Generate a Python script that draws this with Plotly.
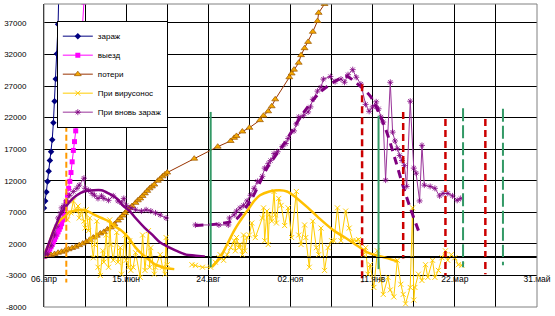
import pandas as pd
import plotly.graph_objects as go

BASE = pd.Timestamp("2020-04-06")

# ---------------- data (day offsets from 06.04.2020, values) ----------------
zarazh_days = [0, 1, 2, 3, 4, 5, 6, 7, 8, 9, 10, 11, 12, 13]
zarazh_vals = [7700, 8800, 10200, 11900, 13500, 15200, 16600, 18500, 21200, 24600, 28100, 32100, 36800, 45000]

vyezd_days = list(range(0, 29)) + [34]
vyezd_vals = [0, 150, 350, 600, 900, 1200, 1550, 1900, 2300, 2700, 3100, 3500, 3900, 4300, 4700,
              5200, 5800, 6500, 7600, 8600, 9700, 10800, 11900, 13300, 15000, 16800, 18200, 19900,
              21500, 40300]

poteri_days = [0, 3, 6, 9, 12, 15, 18, 21, 24, 27, 30, 33, 36, 39, 42, 45, 48, 51, 54, 57, 60, 63,
               65, 67, 69, 71, 73, 75, 78, 80, 82, 84, 86, 88, 90, 92, 94, 97, 99, 101, 103, 105,
               128, 148, 159, 162, 164, 169, 175, 184, 187, 191, 194, 197, 209, 211, 213, 217, 219,
               222, 225, 229, 233, 234, 239]
poteri_vals = [0, 100, 250, 400, 600, 750, 950, 1150, 1350, 1550, 1800, 2050, 2350, 2650, 3000, 3300,
               3650, 3900, 4300, 4600, 5100, 5700, 6100, 6500, 6900, 7300, 7700, 8000, 8500, 8900,
               9200, 9600, 10000, 10400, 10800, 11100, 11400, 12000, 12300, 12700, 13000, 13300,
               15500, 17400, 18300, 18800, 19100, 19800, 20400, 21600, 22300, 23000, 23800, 24900,
               28400, 29000, 29600, 30700, 31900, 33000, 34000, 35600, 37300, 38600, 40000]

virus_days = [20, 23, 25, 27, 29, 30, 32, 34, 35, 36, 38, 39, 40, 42, 43, 45, 46, 48, 50, 51, 53, 55,
              56, 57, 59, 62, 63, 65, 66, 69, 70, 72, 73, 74, 76, 78, 82, 84, 86, 89, 90, 91, 94, 95,
              99, 101, 103, 104, 105, None,
              126, 129, 135, 142, 146, 149, 150, 153, 156, 159, 162, 163, 164, 166, 167, 169, 170,
              171, 173, 175, 177, 180, 186, 187, 188, 190, 191, 192, 194, 196, 197, 198, 200, 202,
              205, 208, 211, 215, 217, 219, 222, 223, 226, 229, 232, 234, 236, 239, 242, 245, 247,
              250, 253, 257, 260, 263, 266, 268, 272, 274, 276, 278, 281, 284, 287, 289, 293, 295,
              298, 301, 304, 306, 308, 312, 314, 315, 316, 319, 322, 325, 327, 331, 333, 336, 339,
              342, 344, 347, 350, 353, 356]
virus_vals = [5800, 6900, 8800, 7200, 8000, 6100, 7200, 5600, 4500, 7400, 4100, 6100, 2700, -200, 1900,
              5600, -1700, -3000, 900, -900, 3400, -1700, 5800, 1900, -600, 3800, -900, 1400, -2800,
              3400, -600, -1700, 2500, -2200, -1700, 600, -3300, 3400, -2200, 4100, -1700, 1400,
              -2800, -1700, 300, -1700, -2800, 3000, -1300, None,
              -1300, -1400, -1700, -1700, -900, -200, 300, -600, 300, 1400, 2500, 900, 3000, 1400,
              1900, 300, 3400, 900, 3000, 3400, 5300, 3000, 6100, 7700, 2500, 7200, 1900, 6600, 5600,
              10300, 6600, 5300, 9200, 8100, 4900, 7700, 3000, 10300, 3400, 1900, 5000, 3000, -1700,
              5600, 1400, 300, 4500, -2200, 1400, 2500, 2500, 7700, 2500, 7200, 4500, 2500, 2500,
              2700, 300, 1400, -2800, -1300, -4900, 900, -3800, -6000, -3300, -5300, -6400, -600,
              -4400, -6000, -7500, -4900, 7700, -6900, -4900, -2800, -3800, -1300, -3300, -600,
              -3300, -2200, -200, 900, -600, 300, -200, -1300, -1400]

vnov_days = [3, 6, 9, 11, 12, 14, 15, 17, 19, 22, 25, 28, 30, 34, 35, 38, 41, 43, 46, 49, 51, 55, 59,
             63, 66, 68, 70, 74, 78, 83, 87, 91, 95, 99, 104, None,
             129, 149, 157, 158, 162, 164, 167, 170, 173, 176, 179, 182, 186, 188, 191, 193, 196,
             199, 203, 206, 208, 213, 215, 217, 221, 225, 227, 229, 233, 236, 238, 244, 248, 253,
             256, 259, 263, 266, 270, 274, 277, 280, 283, 285, 287, 289, 291, 295, 297, 299, 301,
             303, 305, 307, 309, 312, 315, 317, 320, 322, 324, 329, 333, 337, 340, 344, 348, 352, 355]
vnov_vals = [300, 1700, 3400, 4800, 6100, 6900, 7700, 8100, 8800, 9700, 10300, 10800, 11300, 12400,
             10800, 10500, 10000, 9700, 9200, 9600, 9200, 8900, 9600, 8800, 8500, 9200, 8100, 7700,
             7400, 7200, 7400, 7200, 6900, 6600, 6100, None,
             5000, 5000, 5000, 6100, 6600, 7200, 7700, 8100, 8800, 9700, 10800, 11900, 12700, 14000,
             14700, 15200, 16300, 16600, 17400, 17900, 18700, 19900, 21000, 22100, 22300, 22900,
             23700, 24900, 26200, 26800, 28100, 28500, 27700, 28100, 27600, 28800, 29600, 28400,
             27300, 24100, 23000, 23700, 24500, 23400, 22100, 21300, 12100, 27600, 19700, 18300,
             17100, 16000, 15200, 14400, 11100, 24600, 14000, 13200, 8800, 17600, 11300, 11100,
             10800, 9600, 10000, 10000, 9600, 8900, 9200]

# smoothed curves (no legend)
virus_trend1_days = [0, 4, 9, 14, 18, 22, 26, 32, 38, 43, 49, 55, 60, 66, 72, 78, 84, 90, 95, 101, 106, 111]
virus_trend1_vals = [300, 1900, 4500, 5800, 6400, 7100, 7200, 7400, 7100, 6600, 6100, 5600, 4800, 4100,
                     3000, 1400, 300, -600, -1300, -1700, -1900, -2000]
vnov_trend1_days = [0, 6, 10, 14, 19, 23, 28, 34, 42, 49, 55, 62, 67, 73, 78, 86, 93, 99, 107, 114, 121, 128, 137]
vnov_trend1_vals = [0, 3000, 4900, 6600, 8000, 8900, 9700, 10300, 10500, 10500, 10000, 9200, 8100, 7200,
                    6100, 4500, 3300, 2200, 1400, 800, 300, 150, 0]
virus_trend2_days = [143, 150, 156, 162, 167, 173, 179, 184, 192, 201, 207, 213, 225, 236, 247, 259, 267, 276, 284, 293, 301]
virus_trend2_vals = [-1700, -200, 1900, 4100, 5600, 7200, 8800, 9700, 10300, 10500, 10300, 9600, 7700,
                     5800, 4100, 2700, 1700, 600, 150, -300, -800]
vnov_trend2_days = [129, 149, 163, 177, 190, 205, 220, 235, 250, 258, 266, 278, 291, 299, 306, 312, 319]
vnov_trend2_vals = [4900, 5200, 5800, 9200, 14000, 18000, 22500, 26000, 28000, 28500, 27500, 25400,
                    20200, 15500, 11100, 7700, 4100]

# vertical marker lines
vline_days = [19, 142, 271, 285, 306, 342, 357, 376, 391]
vline_top = [20700, 22900, 27300, 22300, 22900, 21800, 23500, 21800, 23400]
vline_bottom = [-4100, -1700, -4100, -2000, -300, -3000, -1700, -2800, -1400]

tick_labels = ["06.апр", "15.июн", "24.авг", "02.ноя", "11.янв", "22.мар", "31.май"]
y_ticks = [-8000, -3000, 2000, 7000, 12000, 17000, 22000, 27000, 32000, 37000]


def to_dates(days):
    return [None if d is None else BASE + pd.Timedelta(days=d) for d in days]


fig = go.Figure()
FONT = "Liberation Sans, Arial, sans-serif"

fig.add_trace(go.Scatter(x=to_dates(zarazh_days), y=zarazh_vals, name="зараж", mode="lines+markers",
                         line=dict(color="#000080", width=1),
                         marker=dict(symbol="diamond", size=5, color="#000080")))
fig.add_trace(go.Scatter(x=to_dates(vyezd_days), y=vyezd_vals, name="выезд", mode="lines+markers",
                         line=dict(color="#FF00FF", width=1),
                         marker=dict(symbol="square", size=5, color="#FF00FF")))
fig.add_trace(go.Scatter(x=to_dates(poteri_days), y=poteri_vals, name="потери", mode="lines+markers",
                         line=dict(color="#993300", width=1),
                         marker=dict(symbol="triangle-up", size=6, color="#F5A800",
                                     line=dict(color="#995500", width=0.7))))
fig.add_trace(go.Scatter(x=to_dates(virus_days), y=virus_vals, name="При вирусонос", mode="lines+markers",
                         connectgaps=False, line=dict(color="#FFCC00", width=1),
                         marker=dict(symbol="x-thin-open", size=5, color="#FFCC00",
                                     line=dict(color="#FFCC00", width=1))))
fig.add_trace(go.Scatter(x=to_dates(vnov_days), y=vnov_vals, name="При вновь зараж", mode="lines+markers",
                         connectgaps=False, line=dict(color="#993399", width=1),
                         marker=dict(symbol="asterisk-open", size=5, color="#800080",
                                     line=dict(color="#800080", width=0.8))))

for dd, vv, col, dash, w in [
    (virus_trend1_days, virus_trend1_vals, "#FFC000", "solid", 2.5),
    (vnov_trend1_days, vnov_trend1_vals, "#800080", "solid", 2.5),
    (virus_trend2_days, virus_trend2_vals, "#FFC000", "solid", 2.5),
    (vnov_trend2_days, vnov_trend2_vals, "#800080", "8px,6px", 3),
]:
    fig.add_trace(go.Scatter(x=to_dates(dd), y=vv, mode="lines", showlegend=False, hoverinfo="skip",
                             line=dict(color=col, width=w, dash=dash, shape="spline", smoothing=0.8)))

vline_styles = [("#FF9900", "6px,3px", 2), ("#339966", "solid", 2), ("#CC0000", "7px,4px", 2.5),
                ("#339966", "solid", 2), ("#CC0000", "7px,4px", 2.5), ("#CC0000", "7px,4px", 2.5),
                ("#339966", "13px,4px", 2), ("#CC0000", "7px,4px", 2.5), ("#339966", "13px,4px", 2)]
for d, top, bot, (col, dash, w) in zip(vline_days, vline_top, vline_bottom, vline_styles):
    fig.add_trace(go.Scatter(x=to_dates([d, d]), y=[top, bot], mode="lines", showlegend=False,
                             hoverinfo="skip", line=dict(color=col, width=w, dash=dash)))

tickvals = [BASE + pd.Timedelta(days=35 * k) for k in range(13)]
ticktext = [tick_labels[k // 2] if k % 2 == 0 else "" for k in range(13)]

fig.update_layout(
    width=555, height=316, autosize=False,
    margin=dict(l=40, r=17, t=4, b=6),
    paper_bgcolor="white", plot_bgcolor="white",
    font=dict(family=FONT, size=8, color="black"),
    showlegend=True,
    legend=dict(x=0.026, y=0.945, xanchor="left", yanchor="top", bgcolor="white",
                bordercolor="black", borderwidth=1, font=dict(size=8, family=FONT),
                itemwidth=30, tracegroupgap=0),
    xaxis=dict(type="date", range=[BASE, BASE + pd.Timedelta(days=420)],
               tickmode="array", tickvals=tickvals, ticktext=ticktext,
               showgrid=True, gridcolor="black", gridwidth=1,
               anchor="free", position=8000 / 48000,
               showline=True, linecolor="black", linewidth=1,
               ticks="", ticklabelstandoff=14, tickfont=dict(size=8.5, family=FONT),
               zeroline=False),
    yaxis=dict(range=[-8000, 40000], tickmode="array", tickvals=y_ticks,
               ticktext=[str(v) for v in y_ticks],
               showgrid=True, gridcolor="black", gridwidth=1,
               zeroline=True, zerolinecolor="black", zerolinewidth=1,
               showline=True, linecolor="black", linewidth=1,
               ticks="", ticklabelstandoff=15, tickfont=dict(size=8, family=FONT)),
    shapes=[dict(type="rect", xref="paper", yref="paper", x0=0, x1=1, y0=0, y1=1,
                 line=dict(color="#808080", width=1), layer="above")],
)

fig.write_html("out.html")
